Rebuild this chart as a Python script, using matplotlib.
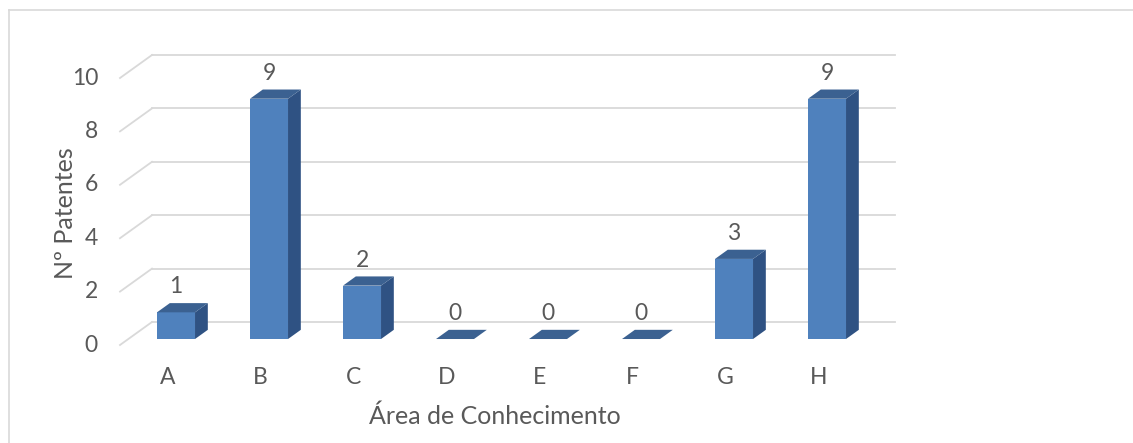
import matplotlib
matplotlib.use("Agg")
import matplotlib.pyplot as plt
from matplotlib.patches import Polygon
from matplotlib.lines import Line2D

# Data
categories = ["A", "B", "C", "D", "E", "F", "G", "H"]
patentes = [1, 9, 2, 0, 0, 0, 3, 9]
y_ticks = [0, 2, 4, 6, 8, 10]
x_title = "Área de Conhecimento"
y_title = "Nº Patentes"

# Figure / canvas
W, H, DPI = 1133, 443, 100
plt.rcParams["font.family"] = ["Lato", "DejaVu Sans"]
fig = plt.figure(figsize=(W / DPI, H / DPI), dpi=DPI)
ax = fig.add_axes([0, 0, 1, 1])

# Scale of the front plane (pixels per category / per unit)
px_cat, px_val = 93.0, 26.7
x0_px, y0_px = 167.7, 345.0
ax.set_xlim(-x0_px / px_cat, (W - x0_px) / px_cat)
ax.set_ylim(-(H - y0_px) / px_val, y0_px / px_val)
ax.axis("off")

# 3D depth offsets (full depth of the floor) in data units
DX, DY = 32 / px_cat, 23 / px_val
t_front, t_back = 0.26, 0.66
bar_w = 38 / px_cat
floor_x0, floor_x1 = -0.513, 7.476

grid_col = "#D9D9D9"
text_col = "#595959"
c_front, c_top, c_side = "#4F81BD", "#3B6191", "#2F5283"
fs_tick, fs_title = 16.5, 18

# Back wall gridlines and side wall diagonals
for v in y_ticks:
    ax.add_line(Line2D([floor_x0 + DX, floor_x1 + DX], [v + DY, v + DY],
                       color=grid_col, lw=1.3, zorder=1))
    ax.add_line(Line2D([floor_x0, floor_x0 + DX], [v, v + DY],
                       color=grid_col, lw=1.3, zorder=1))
    ax.annotate(str(v), xy=(floor_x0, v), xytext=(-22, 0),
                textcoords="offset pixels", ha="right", va="center",
                fontsize=fs_tick, color=text_col)

# Bars (front, top and side faces)
dd = t_back - t_front
for i, (cat, v) in enumerate(zip(categories, patentes)):
    xl = i - bar_w / 2 + t_front * DX
    xr = xl + bar_w
    yb = t_front * DY
    yt = v + t_front * DY
    ox, oy = dd * DX, dd * DY
    if v > 0:
        ax.add_patch(Polygon([(xl, yb), (xr, yb), (xr, yt), (xl, yt)],
                             closed=True, fc=c_front, ec="none", zorder=3))
        ax.add_patch(Polygon([(xr, yb), (xr + ox, yb + oy), (xr + ox, yt + oy), (xr, yt)],
                             closed=True, fc=c_side, ec="none", zorder=3))
    ax.add_patch(Polygon([(xl, yt), (xr, yt), (xr + ox, yt + oy), (xl + ox, yt + oy)],
                         closed=True, fc=c_top, ec="none", zorder=3))
    # value label above the bar
    ax.annotate(str(v), xy=(i + t_front * DX, yt), xytext=(0, 25.5),
                textcoords="offset pixels", ha="center", va="center",
                fontsize=fs_tick, color=text_col, zorder=4)
    # category label below the floor
    ax.annotate(cat, xy=(i, 0), xytext=(0, -32), textcoords="offset pixels",
                ha="center", va="center", fontsize=fs_tick, color=text_col)

# Axis titles
fig.text(495 / W, 1 - 424 / H, x_title, ha="center", va="baseline",
         fontsize=fs_title, color=text_col)
fig.text(73 / W, 1 - 213 / H, y_title, ha="center", va="baseline",
         rotation=90, rotation_mode="anchor", fontsize=fs_title, color=text_col)

# Chart area border (top and left edges visible)
fig.add_artist(Line2D([9 / W, 9 / W], [0, 1 - 10 / H], transform=fig.transFigure,
                      color=grid_col, lw=1.2))
fig.add_artist(Line2D([9 / W, 1], [1 - 10 / H, 1 - 10 / H], transform=fig.transFigure,
                      color=grid_col, lw=1.2))

fig.savefig("out.png", dpi=DPI)
